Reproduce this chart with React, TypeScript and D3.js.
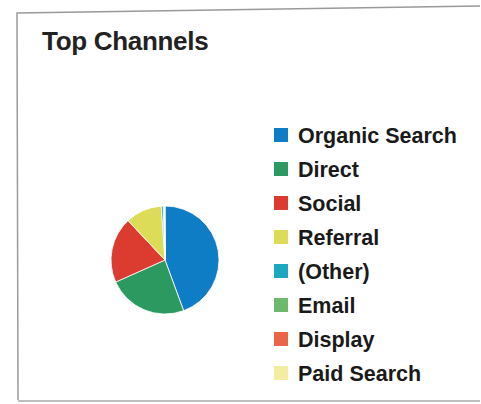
import { useMemo } from 'react';
import * as d3 from 'd3';

const channels = ['Organic Search', 'Direct', 'Social', 'Referral', '(Other)', 'Email', 'Display', 'Paid Search'];
const shares = [44.4, 23.9, 19.7, 10.9, 0.6, 0.3, 0.1, 0.1];
const colors = ['#0f7cc6', '#2c9a60', '#dc3b30', '#dcdc58', '#1da8c2', '#6db96b', '#ea6448', '#f3ee9f'];

export default function App() {
  const width = 481;
  const height = 404;
  const cx = 165;
  const cy = 260;
  const r = 54;

  const arcs = useMemo(() => {
    const pie = d3.pie<number>().sort(null).value((d) => d);
    return pie(shares);
  }, []);
  const arc = d3.arc<d3.PieArcDatum<number>>().innerRadius(0).outerRadius(r);

  const legendY = d3.scalePoint<string>().domain(channels).range([135, 373]);

  return (
    <svg
      width={width}
      height={height}
      style={{ position: 'absolute', left: 0, top: 0, background: '#fff' }}
      fontFamily="'Liberation Sans', Arial, sans-serif"
    >
      {/* frame */}
      <path d="M18,400 L17,13 L480,6" fill="none" stroke="#9a9a9a" strokeWidth={1.5} />
      <line x1={18} y1={401} x2={480} y2={401} stroke="#a8a8a8" strokeWidth={1.5} />

      <text x={42} y={50} fontSize={26} fontWeight={600} fill="#222" letterSpacing={-0.3}>Top Channels</text>

      <g transform={`translate(${cx},${cy})`}>
        {arcs.map((a, i) => (
          <path key={channels[i]} d={arc(a) ?? ''} fill={colors[i]} stroke="#fff" strokeWidth={0.8} />
        ))}
      </g>

      <g>
        {channels.map((c, i) => {
          const y = legendY(c) ?? 0;
          return (
            <g key={c}>
              <rect x={274} y={y - 7} width={14} height={14} fill={colors[i]} />
              <text x={298} y={y + 7.5} fontSize={21.5} fontWeight={600} fill="#1a1a1a">{c}</text>
            </g>
          );
        })}
      </g>
    </svg>
  );
}
